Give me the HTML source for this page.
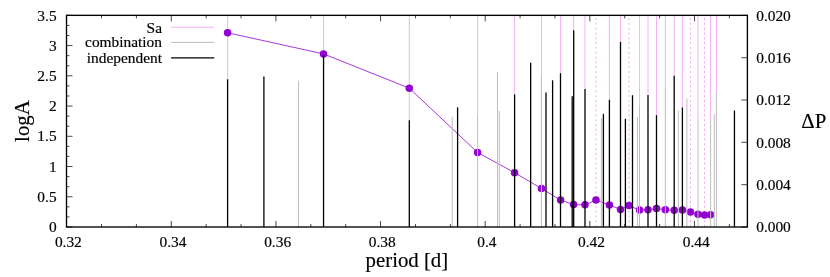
<!DOCTYPE html>
<html><head><meta charset="utf-8"><title>plot</title>
<style>html,body{margin:0;padding:0;background:#fff}svg{display:block;will-change:transform;opacity:0.999}text{font-family:"Liberation Serif",serif;fill:#000;stroke:#000;stroke-width:0.18px}</style></head><body>
<svg width="830" height="277" viewBox="0 0 830 277">
<rect width="830" height="277" fill="#fff"/>
<g stroke="#ee82ee" stroke-width="0.62" fill="none">
<line x1="227.6" y1="15.35" x2="227.6" y2="79.6"/>
<line x1="323.5" y1="15.35" x2="323.5" y2="55.3"/>
<line x1="409.3" y1="15.35" x2="409.3" y2="120.6"/>
<line x1="477.6" y1="15.35" x2="477.6" y2="115.2"/>
<line x1="514.6" y1="15.35" x2="514.6" y2="94.7"/>
<line x1="541.5" y1="15.35" x2="541.5" y2="75.1"/>
<line x1="560.6" y1="15.35" x2="560.6" y2="73.5"/>
<line x1="573.6" y1="15.35" x2="573.6" y2="30.6"/>
<line x1="584.95" y1="15.35" x2="584.95" y2="89.2"/>
<line x1="595.95" y1="227.0" x2="595.95" y2="15.35" stroke-width="0.9" stroke-dasharray="2 2.812" stroke-dashoffset="0" opacity="0.8"/>
<line x1="609.4" y1="15.35" x2="609.4" y2="100.1"/>
<line x1="620.5" y1="15.35" x2="620.5" y2="42.199999999999996"/>
<line x1="629.0" y1="227.0" x2="629.0" y2="15.35" stroke-width="0.9" stroke-dasharray="2 2.812" stroke-dashoffset="0" opacity="0.8"/>
<line x1="639.55" y1="15.35" x2="639.55" y2="105.8"/>
<line x1="648.0" y1="15.35" x2="648.0" y2="95.2"/>
<line x1="656.5" y1="15.35" x2="656.5" y2="115.39999999999999"/>
<line x1="665.35" y1="15.35" x2="665.35" y2="88.1"/>
<line x1="674.2" y1="15.35" x2="674.2" y2="76.1"/>
<line x1="682.45" y1="15.35" x2="682.45" y2="107.8"/>
<line x1="690.45" y1="227.0" x2="690.45" y2="15.35" stroke-width="0.9" stroke-dasharray="2 2.812" stroke-dashoffset="0" opacity="0.8"/>
<line x1="698.0" y1="15.35" x2="698.0" y2="119.39999999999999"/>
<line x1="704.5" y1="227.0" x2="704.5" y2="15.35" stroke-width="0.9" stroke-dasharray="2 2.812" stroke-dashoffset="0" opacity="0.8"/>
<line x1="710.55" y1="15.35" x2="710.55" y2="120.39999999999999"/>
<line x1="716.5" y1="15.35" x2="716.5" y2="92.2"/>
</g>
<polyline fill="none" stroke="#9400d3" stroke-width="0.8" points="227.6,32.75 323.5,53.9 409.3,88.2 477.6,152.5 514.6,172.7 541.5,188.5 560.6,200.1 573.6,204.6 584.95,204.8 595.95,200.1 609.4,205.0 620.5,209.4 629.0,205.6 639.55,210.1 648.0,209.8 656.5,208.6 665.35,209.8 674.2,210.3 682.45,209.9 690.45,211.9 698.0,214.3 704.5,215.1 710.55,214.8"/>
<g fill="#9400d3">
<circle cx="227.6" cy="32.75" r="3.75"/>
<circle cx="323.5" cy="53.9" r="3.75"/>
<circle cx="409.3" cy="88.2" r="3.75"/>
<circle cx="477.6" cy="152.5" r="3.75"/>
<circle cx="514.6" cy="172.7" r="3.75"/>
<circle cx="541.5" cy="188.5" r="3.75"/>
<circle cx="560.6" cy="200.1" r="3.75"/>
<circle cx="573.6" cy="204.6" r="3.75"/>
<circle cx="584.95" cy="204.8" r="3.75"/>
<circle cx="595.95" cy="200.1" r="3.75"/>
<circle cx="609.4" cy="205.0" r="3.75"/>
<circle cx="620.5" cy="209.4" r="3.75"/>
<circle cx="629.0" cy="205.6" r="3.75"/>
<circle cx="639.55" cy="210.1" r="3.75"/>
<circle cx="648.0" cy="209.8" r="3.75"/>
<circle cx="656.5" cy="208.6" r="3.75"/>
<circle cx="665.35" cy="209.8" r="3.75"/>
<circle cx="674.2" cy="210.3" r="3.75"/>
<circle cx="682.45" cy="209.9" r="3.75"/>
<circle cx="690.45" cy="211.9" r="3.75"/>
<circle cx="698.0" cy="214.3" r="3.75"/>
<circle cx="704.5" cy="215.1" r="3.75"/>
<circle cx="710.55" cy="214.8" r="3.75"/>
</g>
<g stroke="#bebebe" stroke-width="1">
<line x1="298.5" y1="227.0" x2="298.5" y2="80.75"/>
<line x1="452.2" y1="227.0" x2="452.2" y2="116.6"/>
<line x1="477.6" y1="227.0" x2="477.6" y2="114.9"/>
<line x1="497.5" y1="227.0" x2="497.5" y2="71.7"/>
<line x1="499.3" y1="227.0" x2="499.3" y2="111.0"/>
<line x1="541.45" y1="227.0" x2="541.45" y2="74.8"/>
<line x1="601.4" y1="227.0" x2="601.4" y2="118.3"/>
<line x1="637.4" y1="227.0" x2="637.4" y2="117.1"/>
<line x1="639.5" y1="227.0" x2="639.5" y2="105.5"/>
<line x1="665.35" y1="227.0" x2="665.35" y2="87.8"/>
<line x1="678.4" y1="227.0" x2="678.4" y2="110.5"/>
<line x1="686.85" y1="227.0" x2="686.85" y2="98.2"/>
<line x1="698.0" y1="227.0" x2="698.0" y2="119.1"/>
<line x1="710.6" y1="227.0" x2="710.6" y2="120.1"/>
<line x1="714.3" y1="227.0" x2="714.3" y2="114.1"/>
<line x1="716.4" y1="227.0" x2="716.4" y2="91.9"/>
</g>
<g stroke="#000" stroke-width="1.3">
<line x1="227.6" y1="227.0" x2="227.6" y2="79.3"/>
<line x1="263.9" y1="227.0" x2="263.9" y2="76.6"/>
<line x1="323.55" y1="227.0" x2="323.55" y2="55.0"/>
<line x1="409.3" y1="227.0" x2="409.3" y2="120.3"/>
<line x1="457.6" y1="227.0" x2="457.6" y2="107.3"/>
<line x1="514.6" y1="227.0" x2="514.6" y2="94.4"/>
<line x1="530.65" y1="227.0" x2="530.65" y2="62.75"/>
<line x1="546.0" y1="227.0" x2="546.0" y2="92.5"/>
<line x1="552.6" y1="227.0" x2="552.6" y2="80.3"/>
<line x1="560.5" y1="227.0" x2="560.5" y2="73.2"/>
<line x1="572.2" y1="227.0" x2="572.2" y2="96.3"/>
<line x1="573.7" y1="227.0" x2="573.7" y2="30.3"/>
<line x1="585.0" y1="227.0" x2="585.0" y2="88.9"/>
<line x1="603.4" y1="227.0" x2="603.4" y2="113.8"/>
<line x1="609.4" y1="227.0" x2="609.4" y2="99.8"/>
<line x1="620.5" y1="227.0" x2="620.5" y2="41.9"/>
<line x1="625.4" y1="227.0" x2="625.4" y2="118.8"/>
<line x1="632.5" y1="227.0" x2="632.5" y2="95.2"/>
<line x1="648.0" y1="227.0" x2="648.0" y2="94.9"/>
<line x1="656.5" y1="227.0" x2="656.5" y2="115.1"/>
<line x1="674.2" y1="227.0" x2="674.2" y2="75.8"/>
<line x1="682.4" y1="227.0" x2="682.4" y2="107.5"/>
<line x1="734.45" y1="227.0" x2="734.45" y2="110.5"/>
</g>
<line x1="171.1" y1="27.25" x2="214.2" y2="27.25" stroke="#ee82ee" stroke-width="0.62"/>
<line x1="171.1" y1="42.4" x2="214.2" y2="42.4" stroke="#bebebe" stroke-width="1"/>
<line x1="171.1" y1="57.9" x2="214.2" y2="57.9" stroke="#000" stroke-width="1.2"/>
<g font-size="15.4" text-anchor="end">
<text x="162" y="32.7">Sa</text><text x="162" y="47.1">combination</text><text x="162" y="62.8">independent</text>
</g>
<g stroke="#000" stroke-width="0.72" fill="none">
<line x1="101.53" y1="227.0" x2="101.53" y2="224.0"/><line x1="101.53" y1="15.35" x2="101.53" y2="18.35"/>
<line x1="136.41" y1="227.0" x2="136.41" y2="224.0"/><line x1="136.41" y1="15.35" x2="136.41" y2="18.35"/>
<line x1="171.29" y1="227.0" x2="171.29" y2="221.0"/><line x1="171.29" y1="15.35" x2="171.29" y2="21.35"/>
<line x1="206.17" y1="227.0" x2="206.17" y2="224.0"/><line x1="206.17" y1="15.35" x2="206.17" y2="18.35"/>
<line x1="241.05" y1="227.0" x2="241.05" y2="224.0"/><line x1="241.05" y1="15.35" x2="241.05" y2="18.35"/>
<line x1="275.93" y1="227.0" x2="275.93" y2="221.0"/><line x1="275.93" y1="15.35" x2="275.93" y2="21.35"/>
<line x1="310.81" y1="227.0" x2="310.81" y2="224.0"/><line x1="310.81" y1="15.35" x2="310.81" y2="18.35"/>
<line x1="345.69" y1="227.0" x2="345.69" y2="224.0"/><line x1="345.69" y1="15.35" x2="345.69" y2="18.35"/>
<line x1="380.57" y1="227.0" x2="380.57" y2="221.0"/><line x1="380.57" y1="15.35" x2="380.57" y2="21.35"/>
<line x1="415.45" y1="227.0" x2="415.45" y2="224.0"/><line x1="415.45" y1="15.35" x2="415.45" y2="18.35"/>
<line x1="450.33" y1="227.0" x2="450.33" y2="224.0"/><line x1="450.33" y1="15.35" x2="450.33" y2="18.35"/>
<line x1="485.21" y1="227.0" x2="485.21" y2="221.0"/><line x1="485.21" y1="15.35" x2="485.21" y2="21.35"/>
<line x1="520.09" y1="227.0" x2="520.09" y2="224.0"/><line x1="520.09" y1="15.35" x2="520.09" y2="18.35"/>
<line x1="554.97" y1="227.0" x2="554.97" y2="224.0"/><line x1="554.97" y1="15.35" x2="554.97" y2="18.35"/>
<line x1="589.85" y1="227.0" x2="589.85" y2="221.0"/><line x1="589.85" y1="15.35" x2="589.85" y2="21.35"/>
<line x1="624.73" y1="227.0" x2="624.73" y2="224.0"/><line x1="624.73" y1="15.35" x2="624.73" y2="18.35"/>
<line x1="659.61" y1="227.0" x2="659.61" y2="224.0"/><line x1="659.61" y1="15.35" x2="659.61" y2="18.35"/>
<line x1="694.49" y1="227.0" x2="694.49" y2="221.0"/><line x1="694.49" y1="15.35" x2="694.49" y2="21.35"/>
<line x1="729.37" y1="227.0" x2="729.37" y2="224.0"/><line x1="729.37" y1="15.35" x2="729.37" y2="18.35"/>
<line x1="66.5" y1="227.00" x2="72.5" y2="227.00"/>
<line x1="66.5" y1="216.92" x2="69.5" y2="216.92"/>
<line x1="66.5" y1="206.84" x2="69.5" y2="206.84"/>
<line x1="66.5" y1="196.76" x2="72.5" y2="196.76"/>
<line x1="66.5" y1="186.69" x2="69.5" y2="186.69"/>
<line x1="66.5" y1="176.61" x2="69.5" y2="176.61"/>
<line x1="66.5" y1="166.53" x2="72.5" y2="166.53"/>
<line x1="66.5" y1="156.45" x2="69.5" y2="156.45"/>
<line x1="66.5" y1="146.37" x2="69.5" y2="146.37"/>
<line x1="66.5" y1="136.29" x2="72.5" y2="136.29"/>
<line x1="66.5" y1="126.21" x2="69.5" y2="126.21"/>
<line x1="66.5" y1="116.14" x2="69.5" y2="116.14"/>
<line x1="66.5" y1="106.06" x2="72.5" y2="106.06"/>
<line x1="66.5" y1="95.98" x2="69.5" y2="95.98"/>
<line x1="66.5" y1="85.90" x2="69.5" y2="85.90"/>
<line x1="66.5" y1="75.82" x2="72.5" y2="75.82"/>
<line x1="66.5" y1="65.74" x2="69.5" y2="65.74"/>
<line x1="66.5" y1="55.66" x2="69.5" y2="55.66"/>
<line x1="66.5" y1="45.59" x2="72.5" y2="45.59"/>
<line x1="66.5" y1="35.51" x2="69.5" y2="35.51"/>
<line x1="66.5" y1="25.43" x2="69.5" y2="25.43"/>
<line x1="66.5" y1="15.35" x2="72.5" y2="15.35"/>
<line x1="747.4" y1="227.00" x2="741.4" y2="227.00"/>
<line x1="747.4" y1="184.67" x2="741.4" y2="184.67"/>
<line x1="747.4" y1="142.34" x2="741.4" y2="142.34"/>
<line x1="747.4" y1="100.01" x2="741.4" y2="100.01"/>
<line x1="747.4" y1="57.68" x2="741.4" y2="57.68"/>
<line x1="747.4" y1="15.35" x2="741.4" y2="15.35"/>
</g>
<rect x="66.5" y="15.35" width="680.9" height="211.65" fill="none" stroke="#000" stroke-width="1.35"/>
<g font-size="15.4" text-anchor="end">
<text x="56.6" y="232.20">0</text>
<text x="56.6" y="201.96">0.5</text>
<text x="56.6" y="171.73">1</text>
<text x="56.6" y="141.49">1.5</text>
<text x="56.6" y="111.26">2</text>
<text x="56.6" y="81.02">2.5</text>
<text x="56.6" y="50.79">3</text>
<text x="56.6" y="20.55">3.5</text>
</g>
<g font-size="15.4" text-anchor="start">
<text x="756.2" y="232.40">0.000</text>
<text x="756.2" y="190.07">0.004</text>
<text x="756.2" y="147.74">0.008</text>
<text x="756.2" y="105.41">0.012</text>
<text x="756.2" y="63.08">0.016</text>
<text x="756.2" y="20.75">0.020</text>
</g>
<g font-size="15.4" text-anchor="middle">
<text x="68.35" y="247.35">0.32</text>
<text x="172.99" y="247.35">0.34</text>
<text x="277.63" y="247.35">0.36</text>
<text x="382.27" y="247.35">0.38</text>
<text x="486.91" y="247.35">0.4</text>
<text x="591.55" y="247.35">0.42</text>
<text x="696.19" y="247.35">0.44</text>
</g>
<text x="406.9" y="267.2" font-size="20.8" text-anchor="middle">period [d]</text>
<text transform="translate(29.3,121.1) rotate(-90)" font-size="20.8" text-anchor="middle">logA</text>
<text x="813.8" y="127.6" font-size="20.8" text-anchor="middle">ΔP</text>
</svg></body></html>
